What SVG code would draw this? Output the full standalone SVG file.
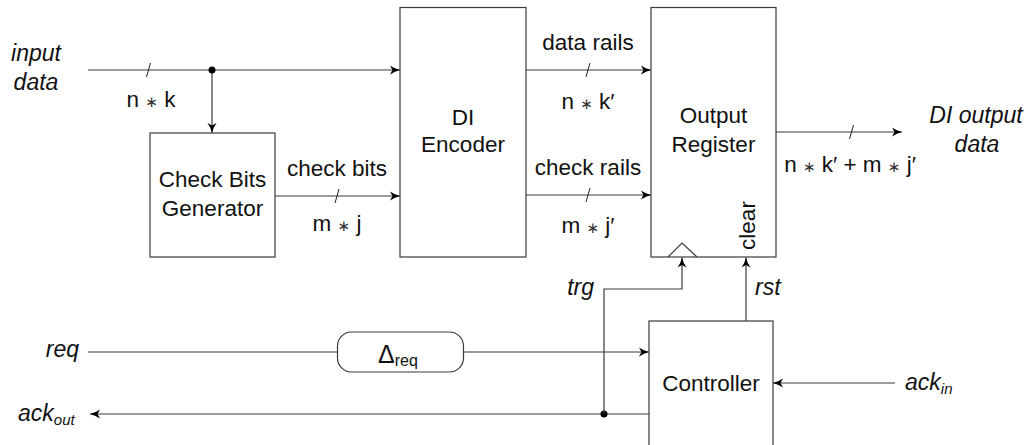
<svg xmlns="http://www.w3.org/2000/svg" width="1030" height="445" viewBox="0 0 1030 445">
  <style>
    .box { fill: #fff; stroke: #3a3a3a; stroke-width: 1.2; }
    .wire { fill: none; stroke: #3a3a3a; stroke-width: 1.2; }
    .arr { marker-end: url(#head); }
    .slash { stroke: #222; stroke-width: 1; }
    text { font-family: "Liberation Sans", "DejaVu Sans", sans-serif; font-size: 22.5px; fill: #111; }
    .c { text-anchor: middle; }
    .r { text-anchor: end; }
    .it { font-style: italic; font-size: 23px; }
    .sub { font-size: 15px; }
    .dsub { font-size: 16px; }
    .op { font-size: 15px; fill: #333; }
  </style>
  <defs>
    <marker id="head" viewBox="0 0 10 10" refX="10" refY="5" markerWidth="10" markerHeight="10" markerUnits="userSpaceOnUse" orient="auto">
      <path d="M0,0.5 Q5,4 10,5 Q5,6 0,9.5 L2.5,5 Z" fill="#000"/>
    </marker>
  </defs>

  <!-- connectors -->
  <g id="connectors">
    <!-- input data bus -->
    <line class="wire arr" x1="88" y1="70" x2="400" y2="70"/>
    <line class="slash" x1="146.5" y1="77" x2="150.5" y2="63"/>
    <line class="wire arr" x1="212" y1="70" x2="212" y2="133"/>
    <circle cx="212" cy="70" r="3.5" fill="#000"/>
    <!-- check bits -->
    <line class="wire arr" x1="275" y1="196" x2="400" y2="196"/>
    <line class="slash" x1="335" y1="203" x2="339" y2="189"/>
    <!-- data rails -->
    <line class="wire arr" x1="526" y1="70" x2="651" y2="70"/>
    <line class="slash" x1="586" y1="77" x2="590" y2="63"/>
    <!-- check rails -->
    <line class="wire arr" x1="526" y1="195" x2="651" y2="195"/>
    <line class="slash" x1="586" y1="202" x2="590" y2="188"/>
    <!-- output data -->
    <line class="wire arr" x1="776" y1="132" x2="902" y2="132"/>
    <line class="slash" x1="849.5" y1="139" x2="853.5" y2="125"/>
    <!-- req through delay -->
    <line class="wire arr" x1="88" y1="352" x2="649" y2="352"/>
    <!-- ack_out -->
    <line class="wire arr" x1="649" y1="414" x2="90" y2="414"/>
    <circle cx="604" cy="414" r="3.5" fill="#000"/>
    <!-- trigger -->
    <polyline class="wire arr" points="604,414 604,289 682,289 682,257.5"/>
    <!-- reset -->
    <line class="wire arr" x1="746" y1="321" x2="746" y2="257.5"/>
    <!-- ack_in -->
    <line class="wire arr" x1="895" y1="383" x2="773" y2="383"/>
  </g>

  <!-- check bits generator -->
  <g id="checkbits">
    <rect class="box" x="150" y="133" width="125" height="124"/>
    <text class="c" x="212.5" y="186.5">Check Bits</text>
    <text class="c" x="212.5" y="216">Generator</text>
  </g>

  <!-- DI encoder -->
  <g id="encoder">
    <rect class="box" x="400" y="7.5" width="126" height="249.5"/>
    <text class="c" x="463" y="125">DI</text>
    <text class="c" x="463" y="152">Encoder</text>
  </g>

  <!-- output register -->
  <g id="register">
    <rect class="box" x="651" y="7.5" width="125" height="249.5"/>
    <text class="c" x="713.5" y="123">Output</text>
    <text class="c" x="713.5" y="152">Register</text>
    <polyline class="wire" points="668,257 682,243 697,257"/>
    <text class="c" transform="translate(755,225.5) rotate(-90)">clear</text>
  </g>

  <!-- delay element -->
  <g id="delay">
    <rect class="box" x="337.5" y="332" width="126" height="40" rx="14" ry="14"/>
    <text x="378" y="363" style="font-size:25px">Δ<tspan class="dsub" dy="3">req</tspan></text>
  </g>

  <!-- controller -->
  <g id="controller">
    <rect class="box" x="649" y="321" width="124" height="140"/>
    <text class="c" x="711" y="391">Controller</text>
  </g>

  <!-- signal labels -->
  <g id="labels">
    <text class="c it" x="36" y="61">input</text>
    <text class="c it" x="36" y="90">data</text>
    <text class="c" x="151" y="107">n <tspan class="op">∗</tspan> k</text>
    <text class="c" x="337" y="175.5">check bits</text>
    <text class="c" x="337" y="231">m <tspan class="op">∗</tspan> j</text>
    <text class="c" x="588" y="50">data rails</text>
    <text class="c" x="588" y="109">n <tspan class="op">∗</tspan> k′</text>
    <text class="c" x="588" y="175">check rails</text>
    <text class="c" x="588" y="233">m <tspan class="op">∗</tspan> j′</text>
    <text class="c" x="850" y="171.5">n <tspan class="op">∗</tspan> k′ + m <tspan class="op">∗</tspan> j′</text>
    <text class="c it" x="976" y="123">DI output</text>
    <text class="c it" x="977" y="152">data</text>
    <text class="r it" x="594" y="295">trg</text>
    <text class="it" x="755" y="295">rst</text>
    <text class="r it" x="79" y="357">req</text>
    <text class="it" x="18" y="421">ack<tspan class="sub" dy="4">out</tspan></text>
    <text class="it" x="905" y="390">ack<tspan class="sub" dy="4">in</tspan></text>
  </g>
</svg>
